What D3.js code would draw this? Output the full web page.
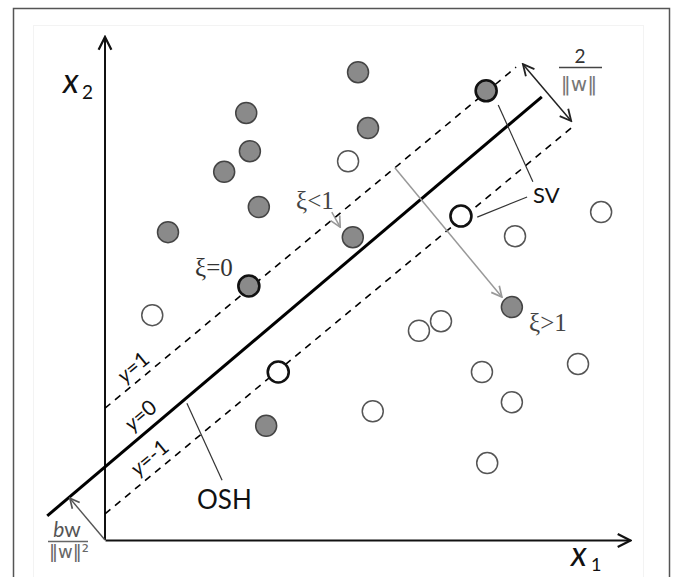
<!DOCTYPE html>
<html>
<head>
<meta charset="utf-8">
<script src="https://cdn.jsdelivr.net/npm/d3@7"></script>
<style>
  body { margin: 0; background: #fff; }
  svg { display: block; }
</style>
</head>
<body>
<div class="svm_box"></div>
<script>
// class +1 (grey filled) and class -1 (open) points, in x1/x2 units
var filledPts = [[4.82, 9.30], [2.69, 8.49], [5.01, 8.19], [2.76, 7.73], [2.27, 7.32],
                 [2.93, 6.62], [1.20, 6.12], [4.72, 6.02], [7.75, 4.63], [3.07, 2.27]];
var filledSV = [[7.26, 8.93], [2.74, 5.05]];
var hollowPts = [[4.63, 7.53], [9.45, 6.52], [7.81, 6.04], [0.90, 4.47], [5.98, 4.16],
                 [6.40, 4.35], [7.18, 3.34], [9.01, 3.50], [7.75, 2.74], [5.10, 2.56], [7.28, 1.53]];
var hollowSV = [[6.78, 6.44], [3.30, 3.34]];

// hyperplanes y=1, y=0 (OSH), y=-1
var planeNames = ["y=1", "y=0", "y=-1"];
var planeEnds = [[[0, 2.62], [7.83, 9.40]],
                 [[-1.10, 0.48], [8.32, 8.81]],
                 [[0, 0.52], [8.90, 8.21]]];

// arrows and pointer lines
var marginArrow = [[7.96, 9.46], [8.88, 8.33]];
var slackBig = [[5.52, 7.40], [7.56, 4.83]];
var slackSmall = [[4.32, 6.52], [4.48, 6.22]];
var offsetArrow = [[0, 0], [-0.67, 0.83]];
var oshPointer = [[1.56, 2.72], [2.23, 1.19]];
var svPointers = [[[7.49, 8.65], [8.15, 7.12]], [[7.09, 6.42], [8.04, 6.82]]];

var width = 673, height = 577;

var svg = d3.select('.svm_box')
            .append("svg")
            .attr("width", width)
            .attr("height", height);

var x = d3.scaleLinear().domain([0, 10]).range([105, 630]);
var y = d3.scaleLinear().domain([0, 10]).range([540, 37]);

// frame
svg.append("rect")
   .attr("x", 13.5).attr("y", 8.5)
   .attr("width", 656).attr("height", 600)
   .attr("fill", "#fff")
   .attr("stroke", "#555")
   .attr("stroke-width", 1.5);
svg.append("rect")
   .attr("x", 33.5).attr("y", 25.5)
   .attr("width", 610).attr("height", 560)
   .attr("fill", "none")
   .attr("stroke", "#f3f3f3");

var defs = svg.append("defs");
function makeMarker(id, color, size, sw) {
  defs.append("marker")
      .attr("id", id)
      .attr("viewBox", "0 0 10 10")
      .attr("refX", 9).attr("refY", 5)
      .attr("markerWidth", size).attr("markerHeight", size)
      .attr("markerUnits", "userSpaceOnUse")
      .attr("orient", "auto-start-reverse")
      .append("path")
      .attr("d", "M1,1 L9,5 L1,9")
      .attr("fill", "none")
      .attr("stroke", color)
      .attr("stroke-width", sw)
      .attr("stroke-linejoin", "miter");
}
makeMarker("axisHead", "#111", 16, 1.4);
makeMarker("darkHead", "#222", 14, 1.3);
makeMarker("greyHead", "#999", 13, 1.3);
makeMarker("offHead", "#555", 12, 1.4);

var line = d3.line().x(function(d) { return x(d[0]); }).y(function(d) { return y(d[1]); });

// axes (no ticks, arrows only)
svg.append("g")
   .attr("transform", "translate(0," + y(0) + ")")
   .call(d3.axisBottom(x).tickSizeOuter(0).tickValues([]))
   .select(".domain")
   .attr("stroke", "#111").attr("stroke-width", 2)
   .attr("marker-end", "url(#axisHead)");
svg.append("g")
   .attr("transform", "translate(" + x(0) + ",0)")
   .call(d3.axisLeft(y).tickSizeOuter(0).tickValues([]))
   .select(".domain")
   .attr("stroke", "#111").attr("stroke-width", 2)
   .attr("d", "M0," + y(0) + "V" + y(10))
   .attr("marker-end", "url(#axisHead)");

// hyperplanes
svg.selectAll(".plane")
   .data(planeEnds)
   .enter().append("path")
   .attr("class", "plane")
   .attr("d", line)
   .attr("fill", "none")
   .attr("stroke", "#000")
   .attr("stroke-width", function(d, i) { return i == 1 ? 3 : 1.6; })
   .attr("stroke-dasharray", function(d, i) { return i == 1 ? null : "7,6"; });

// plane labels, rotated along the lines
var labelAt = [[0.52, 3.46], [0.66, 2.50], [0.83, 1.66]];
svg.selectAll(".planeLabel")
   .data(planeNames)
   .enter().append("text")
   .attr("class", "planeLabel")
   .attr("transform", function(d, i) {
      var p = planeEnds[i];
      var ang = Math.atan2(y(p[1][1]) - y(p[0][1]), x(p[1][0]) - x(p[0][0])) * 180 / Math.PI;
      return "translate(" + x(labelAt[i][0]) + "," + y(labelAt[i][1]) + ") rotate(" + ang + ")";
   })
   .attr("text-anchor", "middle")
   .attr("dominant-baseline", "central")
   .attr("font-family", "Lato, 'Open Sans', sans-serif")
   .attr("font-size", "21px")
   .attr("fill", "#111")
   .html(function(d) { return "<tspan font-style='italic'>y</tspan>" + d.slice(1); });

// pointer lines
svg.selectAll(".svp")
   .data(svPointers)
   .enter().append("path")
   .attr("class", "svp")
   .attr("d", line)
   .attr("stroke", "#333").attr("stroke-width", 1.2);
svg.append("path").attr("d", line(oshPointer))
   .attr("stroke", "#333").attr("stroke-width", 1.2);

// arrows
svg.append("path").attr("d", line(marginArrow))
   .attr("stroke", "#222").attr("stroke-width", 1.5)
   .attr("marker-start", "url(#darkHead)")
   .attr("marker-end", "url(#darkHead)");
svg.append("path").attr("d", line(slackBig))
   .attr("stroke", "#999").attr("stroke-width", 1.5)
   .attr("marker-end", "url(#greyHead)");
svg.append("path").attr("d", line(slackSmall))
   .attr("stroke", "#999").attr("stroke-width", 1.5)
   .attr("marker-end", "url(#greyHead)");
svg.append("path").attr("d", line(offsetArrow))
   .attr("stroke", "#555").attr("stroke-width", 1.4)
   .attr("marker-end", "url(#offHead)");

// points
function drawPts(data, fill, stroke, sw) {
  svg.append("g").selectAll("circle")
     .data(data)
     .enter().append("circle")
     .attr("cx", function(d) { return x(d[0]); })
     .attr("cy", function(d) { return y(d[1]); })
     .attr("r", 10.5)
     .attr("fill", fill)
     .attr("stroke", stroke)
     .attr("stroke-width", sw);
}
drawPts(filledPts, "#8a8a8a", "#444", 1.5);
drawPts(hollowPts, "#fff", "#555", 1.5);
drawPts(filledSV, "#8a8a8a", "#111", 2.6);
drawPts(hollowSV, "#fff", "#111", 2.6);

// axis labels
var sans = "Lato, 'Open Sans', sans-serif";
svg.append("text").attr("x", 63).attr("y", 93).text("x")
   .attr("font-family", sans).attr("font-style", "italic").attr("font-size", "34px").attr("fill", "#111");
svg.append("text").attr("x", 82).attr("y", 99).text("2")
   .attr("font-family", sans).attr("font-size", "19px").attr("fill", "#111");
svg.append("text").attr("x", 571).attr("y", 566).text("x")
   .attr("font-family", sans).attr("font-style", "italic").attr("font-size", "34px").attr("fill", "#111");
svg.append("text").attr("x", 591).attr("y", 571).text("1")
   .attr("font-family", sans).attr("font-size", "18px").attr("fill", "#111");

svg.append("text").attr("x", 197).attr("y", 509).text("OSH")
   .attr("font-family", sans).attr("font-size", "26px").attr("fill", "#111");
svg.append("text").attr("x", 533).attr("y", 203).text("SV")
   .attr("font-family", sans).attr("font-size", "22px").attr("fill", "#111");

// 2/||w||
svg.append("text").attr("x", 580).attr("y", 63).text("2")
   .attr("text-anchor", "middle")
   .attr("font-family", sans).attr("font-size", "19px").attr("fill", "#333");
svg.append("line").attr("x1", 559).attr("x2", 602).attr("y1", 67.5).attr("y2", 67.5)
   .attr("stroke", "#444").attr("stroke-width", 1.5);
svg.append("text").attr("x", 579).attr("y", 91).text("\u2016w\u2016")
   .attr("text-anchor", "middle")
   .attr("font-family", "'DejaVu Sans', sans-serif").attr("font-size", "20px").attr("fill", "#777");

// bw/||w||^2
svg.append("text").attr("x", 67).attr("y", 537)
   .attr("text-anchor", "middle")
   .attr("font-family", sans).attr("font-size", "21px").attr("fill", "#555")
   .html("<tspan font-style='italic'>b</tspan>w");
svg.append("line").attr("x1", 48).attr("x2", 88).attr("y1", 541.5).attr("y2", 541.5)
   .attr("stroke", "#666").attr("stroke-width", 1.5);
svg.append("text").attr("x", 69).attr("y", 558).text("\u2016w\u2016\u00b2")
   .attr("text-anchor", "middle")
   .attr("font-family", "'DejaVu Sans', sans-serif").attr("font-size", "18px").attr("fill", "#666");

// slack labels
var serif = "'Liberation Serif', 'DejaVu Serif', serif";
svg.append("text").attr("x", 195).attr("y", 276).text("\u03be=0")
   .attr("font-family", serif).attr("font-size", "25px").attr("fill", "#333");
svg.append("text").attr("x", 296).attr("y", 209).text("\u03be<1")
   .attr("font-family", serif).attr("font-size", "25px").attr("fill", "#444");
svg.append("text").attr("x", 529).attr("y", 331).text("\u03be>1")
   .attr("font-family", serif).attr("font-size", "25px").attr("fill", "#444");
</script>
</body>
</html>
